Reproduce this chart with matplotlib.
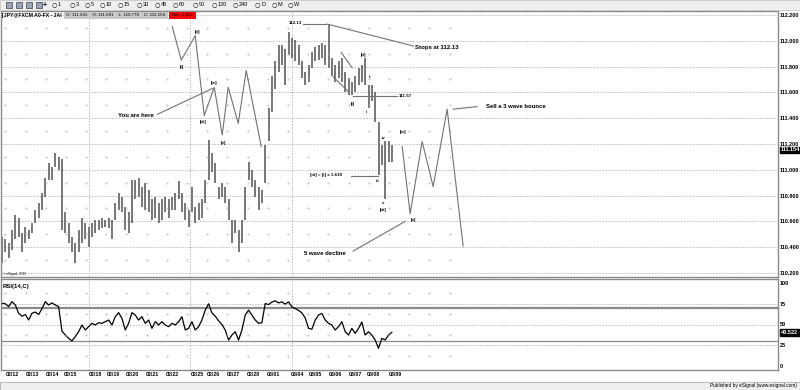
# USD/JPY 60-min chart with Elliott wave count, eSignal style
import matplotlib.pyplot as plt
from matplotlib.patches import Rectangle
import numpy as np

plt.rcParams['font.family'] = ['Liberation Sans', 'DejaVu Sans']

# bar highs / lows (price), one entry per bar
highs = [110.48, 110.46, 110.43, 110.53, 110.65, 110.63, 110.51, 110.56, 110.53, 110.59,
         110.69, 110.74, 110.82, 110.94, 111.05, 111.02, 111.13, 111.10, 111.08, 110.67,
         110.59, 110.48, 110.43, 110.53, 110.63, 110.59, 110.56, 110.59, 110.61, 110.61,
         110.63, 110.61, 110.63, 110.61, 110.74, 110.82, 110.79, 110.71, 110.67, 110.92,
         110.92, 110.94, 110.87, 110.90, 110.84, 110.77, 110.79, 110.74, 110.77, 110.79,
         110.77, 110.79, 110.82, 110.91, 110.82, 110.74, 110.69, 110.87, 110.71, 110.74,
         110.77, 110.92, 111.23, 111.13, 111.05, 110.87, 110.90, 110.87, 110.77, 110.61,
         110.61, 110.53, 110.61, 110.87, 111.06, 111.00, 110.92, 110.87, 110.84, 111.19,
         111.48, 111.73, 111.84, 111.97, 111.97, 111.94, 112.07, 112.02, 112.01, 111.97,
         111.84, 111.76, 111.81, 111.91, 111.95, 111.97, 111.98, 111.97, 112.13, 111.87,
         111.81, 111.84, 111.87, 111.76, 111.71, 111.68, 111.73, 111.79, 111.81, 111.87,
         111.66, 111.66, 111.60, 111.37, 111.19, 111.22, 111.22, 111.19]
lows = [110.28, 110.36, 110.32, 110.38, 110.46, 110.48, 110.36, 110.43, 110.46, 110.51,
        110.59, 110.63, 110.69, 110.79, 110.92, 110.92, 111.02, 111.00, 110.53, 110.51,
        110.43, 110.36, 110.28, 110.36, 110.43, 110.46, 110.40, 110.48, 110.51, 110.53,
        110.55, 110.56, 110.55, 110.46, 110.61, 110.69, 110.67, 110.53, 110.51, 110.59,
        110.77, 110.79, 110.71, 110.69, 110.67, 110.61, 110.63, 110.59, 110.61, 110.67,
        110.63, 110.69, 110.69, 110.77, 110.67, 110.61, 110.56, 110.67, 110.59, 110.61,
        110.63, 110.74, 110.92, 110.98, 110.90, 110.77, 110.79, 110.74, 110.61, 110.43,
        110.51, 110.36, 110.43, 110.61, 110.92, 110.87, 110.79, 110.69, 110.74, 110.90,
        111.22, 111.45, 111.63, 111.76, 111.81, 111.66, 111.89, 111.87, 111.84, 111.81,
        111.71, 111.66, 111.68, 111.79, 111.84, 111.85, 111.87, 111.81, 111.79, 111.73,
        111.68, 111.71, 111.68, 111.60, 111.58, 111.58, 111.60, 111.66, 111.68, 111.66,
        111.48, 111.53, 111.37, 110.96, 111.04, 110.776, 111.06, 111.06]
rsi = [75.5, 75, 71.5, 77.5, 73.5, 63.5, 60, 62, 55.4, 63.5,
       65, 62, 69, 77.5, 73.5, 76, 73.5, 71.5, 42, 37.3,
       33.3, 30.3, 35.5, 41.3, 49.4, 43.4, 47.4, 51.4, 49.4, 52.2,
       51.4, 53.4, 55.4, 49.4, 59.4, 64.3, 57.4, 43.4, 51.4, 64.3,
       61.4, 55.4, 59.4, 51.4, 55.4, 45.4, 53.4, 49.4, 53.4, 49.4,
       47.4, 51.4, 49.4, 53.4, 59.4, 43.4, 45.4, 53.4, 43.4, 47.4,
       55.4, 67.3, 75, 64, 60, 54.4, 50, 43.4, 31.3, 37.3,
       41.3, 31.3, 43.4, 61.4, 67.3, 61.4, 55.4, 51.4, 52.2, 75.3,
       74, 77, 78.5, 76, 77.3, 74.5, 77.3, 71.3, 69.3, 67,
       64, 58, 45.4, 44.3, 55.4, 61.4, 63.3, 55.4, 51.4, 49.4,
       43.4, 47.4, 53.4, 41.3, 37.3, 45.4, 39.3, 45.4, 53, 37.3,
       41.3, 37.3, 31.3, 21.3, 33.3, 31.3, 37.3, 40.522]
bars = np.arange(len(highs))

dates = ['02/12', '02/13', '02/14', '02/15', '02/18', '02/19', '02/20', '02/21', '02/22',
         '02/25', '02/26', '02/27', '02/28', '03/01', '03/04', '03/05', '03/06', '03/07',
         '03/08', '03/09']
day_bar = [3.1, 9.1, 15.1, 20.5, 28, 33.4, 39.1, 45.1, 51.1, 58.6, 63.4, 69.4, 75.4,
           81.4, 88.6, 94, 100, 106, 111.4, 118]
week_bar = [26.2, 56.5, 87.1]

last_price = 111.154
last_rsi = 40.522

# wave count drawn on the chart (bar, price)
wave_a_x = [51.1, 53.8, 58.0, 60.7, 63.7, 66.1, 67.9, 70.9, 73.3, 77.8]
wave_a_p = [112.11, 111.85, 112.04, 111.42, 111.64, 111.27, 111.64, 111.36, 111.77, 111.18]
wave_b_x = [120.1, 122.5, 126.1, 129.4, 133.6, 138.4]
wave_b_p = [111.18, 110.66, 111.22, 110.87, 111.47, 110.41]
stop_level = 112.13
pivot_level = 111.57
ext_level = 110.95

grey = '#727272'
fig = plt.figure(figsize=(8, 3.9), dpi=100)
W, H = 800, 390


def fx(px):
    return px / W


def fy(py):
    return 1 - py / H


ax = fig.add_axes([fx(1), fy(277), fx(777), 266 / H])
ax2 = fig.add_axes([fx(1), fy(370), fx(777), 91 / H], sharex=ax)

ax.vlines(bars, lows, highs, color='#666666', lw=1.25)
ax2.plot(bars, rsi, color='black', lw=0.9)

ax.set_xlim(-0.3, 232.9)
ax.set_ylim(112.2 - 262 / 129, 112.2 + 4 / 129)
ax2.set_ylim(-4.8, 104.8)

for a in (ax, ax2):
    for s in a.spines.values():
        s.set_color('#8a8a8a')
        s.set_linewidth(1.0)
    a.yaxis.tick_right()
    a.tick_params(axis='y', length=0, pad=1.5, labelsize=4, labelcolor='black')
    for w in week_bar:
        a.axvline(w, color='#b8b8b8', lw=0.6, ls=(0, (2, 1.5)), zorder=0)
    a.set_facecolor('white')

ax.set_yticks(np.round(np.arange(110.2, 112.21, 0.2), 1))
ax.set_yticklabels(['%.3f' % v for v in np.arange(110.2, 112.21, 0.2)])
ax.grid(axis='y', color='#b8b8b8', lw=0.6, ls=(0, (2, 1.5)), zorder=0)
ax.tick_params(axis='x', length=0, labelbottom=False)

ax2.set_yticks([0, 25, 50, 75, 100])
ax2.set_yticklabels(['0', '25', '50', '75', '100'])
for lv in (25, 50, 75):
    ax2.axhline(lv, color='#b8b8b8', lw=0.6, ls=(0, (2, 1.5)), zorder=0)
ax2.axhline(70, color='#8a8a8a', lw=1.6, zorder=1)
ax2.axhline(30, color='#8a8a8a', lw=0.9, zorder=1)
ax2.set_xticks(day_bar)
ax2.set_xticklabels(dates)
ax2.tick_params(axis='x', length=0, pad=1.5, labelsize=3.8)
for t in ax2.get_xticklabels():
    t.set_fontweight('bold')
for t in ax.get_yticklabels() + ax2.get_yticklabels():
    t.set_fontweight('bold')

# dotted minor grid
dot_x = np.arange(1.0, 140, 6.06)
for yv in np.arange(110.3, 112.2, 0.2):
    ax.plot(dot_x, np.full(len(dot_x), yv), ls='none', marker='.', ms=0.7, color='#a8a8a8')
for yv in (12.5, 37.5, 62.5, 87.5):
    ax2.plot(dot_x, np.full(len(dot_x), yv), ls='none', marker='.', ms=0.7, color='#a8a8a8')

# wave lines
ax.plot(wave_a_x, wave_a_p, color=grey, lw=0.8)
ax.plot(wave_b_x, wave_b_p, color=grey, lw=0.8)
ax.plot([90.4, 97.3], [stop_level, stop_level], color=grey, lw=0.8)
ax.plot([97.6, 123.4], [stop_level, 111.96], color=grey, lw=0.8)
ax.plot([101.8, 105.1], [111.91, 111.79], color=grey, lw=0.8)
ax.plot([99.4, 104.2], [111.72, 111.60], color=grey, lw=0.8)
ax.plot([105.4, 118.6], [pivot_level, pivot_level], color=grey, lw=0.8)
ax.plot([104.8, 112.9], [ext_level, ext_level], color=grey, lw=0.8)
ax.plot([46.6, 63.1], [111.43, 111.63], color=grey, lw=0.8)
ax.plot([105.4, 121.0], [110.37, 110.60], color=grey, lw=0.8)
ax.plot([135.4, 142.6], [111.47, 111.49], color=grey, lw=0.8)

small = dict(fontsize=3.2, fontweight='bold', ha='center', va='center')
note = dict(fontsize=4.3, fontweight='bold', ha='center', va='center')
for x, y, s in [(54.1, 111.80, '[i]'), (58.6, 112.07, '[ii]'), (60.4, 111.37, '[iii]'),
                (63.7, 111.67, '[iv]'), (66.4, 111.21, '[v]'),
                (105.4, 111.51, '[i]'), (108.4, 111.89, '[ii]'), (110.5, 111.72, 'ii'),
                (109.3, 111.45, 'i'), (112.6, 110.91, 'iii'), (114.4, 111.25, 'iv'),
                (114.4, 110.74, 'v'), (114.4, 110.69, '[iii]'),
                (120.4, 111.29, '[iv]'), (123.4, 110.61, '[v]'),
                (88.0, 112.14, '112.13'), (121.0, 111.57, '111.57'),
                (97.3, 110.96, '[iii] = [i] x 1.618')]:
    ax.text(x, y, s, **small)
for x, y, s in [(40.3, 111.42, 'You are here'), (130.6, 111.95, 'Stops at 112.13'),
                (97.0, 110.35, '5 wave decline'), (154.3, 111.49, 'Sell a 3 wave bounce')]:
    ax.text(x, y, s, **note)

ax.text(0.3, 110.19, '\u00a9 eSignal, 2019', fontsize=2.3, va='center')
ax2.text(0.3, 96, 'RSI(14,C)', fontsize=4.3, fontweight='bold', va='center')

# last value boxes on the scale
ax.text(1.004, last_price, '%.3f' % last_price, transform=ax.get_yaxis_transform(),
        fontsize=4, fontweight='bold', color='white', va='center', ha='left',
        bbox=dict(boxstyle='square,pad=0.15', fc='black', ec='black'))
ax2.text(1.004, last_rsi, '%.3f' % last_rsi, transform=ax2.get_yaxis_transform(),
         fontsize=4, fontweight='bold', color='white', va='center', ha='left',
         bbox=dict(boxstyle='square,pad=0.15', fc='black', ec='black'))

# title strip
fig.text(fx(2), fy(15.5), '[JPY@FXCM A0-FX - JAI', fontsize=3.7, fontweight='bold', va='center')
fig.add_artist(Rectangle((fx(64), fy(19)), fx(104), 7 / H, transform=fig.transFigure,
                         fc='#c8c8c8', ec='none'))
fig.text(fx(66), fy(15.5), 'O: 111.641    H: 111.681    L: 110.776    C: 111.154',
         fontsize=3.2, va='center')
fig.add_artist(Rectangle((fx(169), fy(19)), fx(27), 7 / H, transform=fig.transFigure,
                         fc='#ff0000', ec='none'))
fig.text(fx(182.5), fy(15.5), 'Net -0.414', fontsize=3.2, va='center', ha='center')

# toolbar
fig.add_artist(Rectangle((0, fy(10)), 1, 10 / H, transform=fig.transFigure,
                         fc='#efefef', ec='#c8c8c8', lw=0.6))
for px in (6, 16, 26, 36):
    fig.add_artist(Rectangle((fx(px), fy(8)), fx(6), 6 / H, transform=fig.transFigure,
                             fc='#9aa4b8', ec='#404050', lw=0.5))
fig.text(fx(45), fy(5), '+', fontsize=5, fontweight='bold', va='center', ha='center')
tools = ['1', '3', '5', '10', '15', '30', '45', '60', '90', '120', '240', 'D', 'M', 'W']
tool_px = [52, 70, 85, 100, 118, 137, 155, 173, 193, 212, 233, 255, 272, 288]
for px, s in zip(tool_px, tools):
    fig.text(fx(px + 2.5), fy(5), '\u25cb', fontsize=4.5, va='center', ha='center',
             family=['DejaVu Sans'])
    fig.text(fx(px + 6), fy(5), s, fontsize=4, va='center')

# status bar
fig.add_artist(Rectangle((0, 0), 1, 8 / H, transform=fig.transFigure,
                         fc='#efefef', ec='#b0b0b0', lw=0.6))
fig.text(fx(797), fy(386), 'Published by eSignal (www.esignal.com)', fontsize=3.4,
         va='center', ha='right')

fig.savefig('out.png', dpi=100)
